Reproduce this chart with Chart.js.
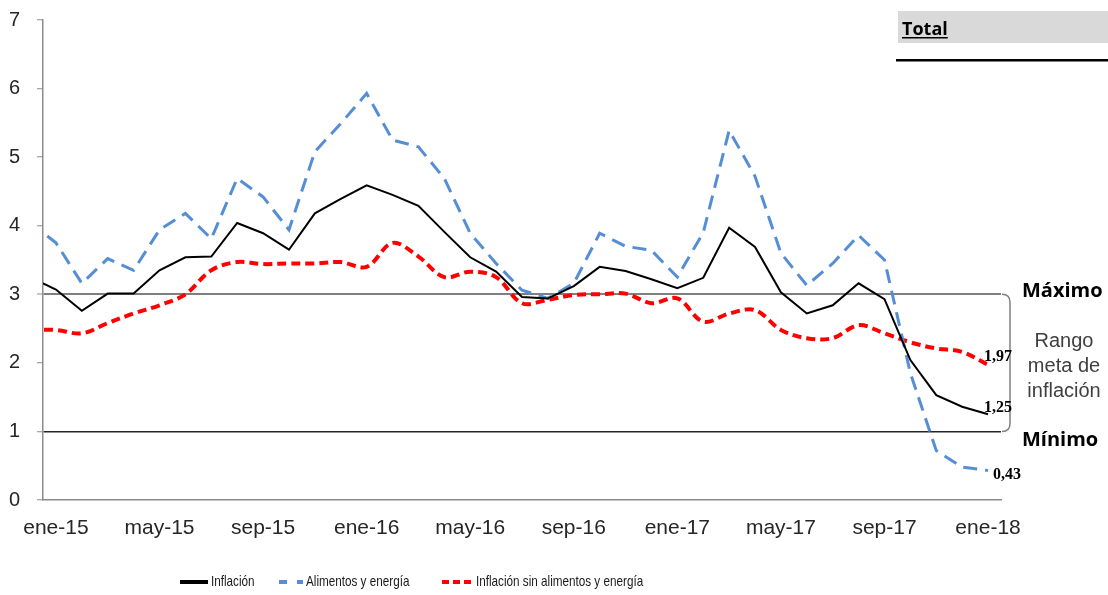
<!DOCTYPE html>
<html>
<head>
<meta charset="utf-8">
<script src="https://cdn.jsdelivr.net/npm/chart.js@4.4.1/dist/chart.umd.min.js"></script>
<style>
  html, body { margin: 0; padding: 0; background: #fff; }
</style>
</head>
<body>
<canvas id="grafico" width="1108" height="595"></canvas>
<script>
// datos (dic-14 solo sirve para que las lineas arranquen en el borde del eje)
const meses = ['dic-14',
  'ene-15','feb-15','mar-15','abr-15','may-15','jun-15','jul-15','ago-15','sep-15','oct-15','nov-15','dic-15',
  'ene-16','feb-16','mar-16','abr-16','may-16','jun-16','jul-16','ago-16','sep-16','oct-16','nov-16','dic-16',
  'ene-17','feb-17','mar-17','abr-17','may-17','jun-17','jul-17','ago-17','sep-17','oct-17','nov-17','dic-17',
  'ene-18'];

const inflacion = [3.25,
  3.07, 2.76, 3.01, 3.01, 3.35, 3.54, 3.55, 4.04, 3.89, 3.65, 4.18, 4.39,
  4.59, 4.45, 4.29, 3.91, 3.54, 3.33, 2.96, 2.94, 3.12, 3.40, 3.34, 3.22,
  3.09, 3.24, 3.97, 3.69, 3.03, 2.72, 2.84, 3.16, 2.93, 2.04, 1.53, 1.36,
  1.25];

const alimentos = [4.05,
  3.75, 3.16, 3.52, 3.35, 3.94, 4.18, 3.81, 4.69, 4.42, 3.94, 5.08, 5.49,
  5.93, 5.25, 5.15, 4.69, 3.89, 3.45, 3.06, 2.94, 3.16, 3.89, 3.70, 3.64,
  3.25, 3.90, 5.39, 4.72, 3.60, 3.13, 3.45, 3.86, 3.50, 1.85, 0.72, 0.48,
  0.43];

const sinAlimentos = [2.48,
  2.48, 2.43, 2.58, 2.72, 2.84, 3.00, 3.35, 3.47, 3.44, 3.45, 3.45, 3.47,
  3.40, 3.75, 3.55, 3.25, 3.33, 3.25, 2.87, 2.92, 2.99, 3.00, 3.01, 2.87,
  2.94, 2.60, 2.72, 2.77, 2.48, 2.36, 2.36, 2.55, 2.43, 2.30, 2.21, 2.16,
  1.97];

const nombres = ['Inflación', 'Alimentos y energía', 'Inflación sin alimentos y energía'];
const metaMax = 3;
const metaMin = 1;

const puntos = serie => meses.map((m, i) => ({ x: i - 1, y: serie[i] }));
const coma = v => v.toFixed(2).replace('.', ',');

// textos y leyenda dibujados encima
const notas = {
  id: 'notas',
  afterDraw(chart) {
    const { ctx, scales: { x, y } } = chart;
    ctx.save();

    // recuadro "Total"
    ctx.fillStyle = '#d9d9d9';
    ctx.fillRect(898, 11, 210, 32);
    ctx.fillStyle = '#000';
    ctx.font = 'bold 18px "Open Sans"';
    ctx.textAlign = 'left';
    ctx.textBaseline = 'alphabetic';
    ctx.fillText('Total', 902, 35);
    ctx.fillRect(902, 37, ctx.measureText('Total').width, 1.5);
    ctx.fillRect(896, 59, 212, 2.5);

    // maximo / minimo
    ctx.font = 'bold 20px "Open Sans"';
    ctx.fillText('Máximo', 1022, y.getPixelForValue(metaMax) + 3);
    ctx.fillText('Mínimo', 1022, y.getPixelForValue(metaMin) + 15);

    // llave del rango
    const yt = y.getPixelForValue(metaMax), yb = y.getPixelForValue(metaMin);
    ctx.strokeStyle = '#7f7f7f';
    ctx.lineWidth = 1.5;
    ctx.beginPath();
    ctx.moveTo(1002, yt);
    ctx.quadraticCurveTo(1010, yt, 1010, yt + 8);
    ctx.lineTo(1010, yb - 8);
    ctx.quadraticCurveTo(1010, yb, 1002, yb);
    ctx.stroke();

    ctx.fillStyle = '#404040';
    ctx.font = '20px "Liberation Sans"';
    ctx.textAlign = 'center';
    ctx.fillText('Rango', 1064, 347);
    ctx.fillText('meta de', 1064, 372);
    ctx.fillText('inflación', 1064, 397);

    // ultimos valores
    const n = meses.length - 1;
    const xu = x.getPixelForValue(n - 1);
    ctx.fillStyle = '#000';
    ctx.textAlign = 'left';
    ctx.font = 'bold 16px "Liberation Serif"';
    ctx.fillText(coma(sinAlimentos[n]), xu - 4, y.getPixelForValue(sinAlimentos[n]) - 4);
    ctx.fillText(coma(inflacion[n]), xu - 4, y.getPixelForValue(inflacion[n]) - 2);
    ctx.fillText(coma(alimentos[n]), xu + 5, y.getPixelForValue(alimentos[n]) + 8);

    // leyenda (letra estrecha)
    const items = chart.data.datasets.map((d, i) => ({ d, x0: [180, 279, 442][i], w: [28, 24, 31][i] }));
    ctx.font = '15px "Liberation Sans"';
    ctx.textBaseline = 'middle';
    items.forEach(({ d, x0, w }) => {
      ctx.strokeStyle = d.borderColor;
      ctx.lineWidth = 4;
      ctx.setLineDash(d.legendDash || []);
      ctx.beginPath();
      ctx.moveTo(x0, 582);
      ctx.lineTo(x0 + w, 582);
      ctx.stroke();
      ctx.setLineDash([]);
      ctx.fillStyle = '#1a1a1a';
      ctx.save();
      ctx.translate(x0 + w + 3, 582);
      ctx.scale(0.78, 1);
      ctx.fillText(d.label, 0, 0);
      ctx.restore();
    });
    ctx.restore();
  }
};

new Chart(document.getElementById('grafico'), {
  type: 'line',
  data: {
    datasets: [
      {
        label: nombres[0],
        data: puntos(inflacion),
        borderColor: '#000000',
        borderWidth: 2,
        tension: 0,
        clip: 0
      },
      {
        label: nombres[1],
        data: puntos(alimentos),
        borderColor: '#558ed5',
        borderWidth: 3,
        borderDash: [14, 8],
        legendDash: [8, 10],
        tension: 0,
        clip: 0
      },
      {
        label: nombres[2],
        data: puntos(sinAlimentos),
        borderColor: '#ff0000',
        borderWidth: 4,
        borderDash: [9, 5],
        legendDash: [7, 4],
        tension: 0.35,
        clip: 0
      }
    ]
  },
  options: {
    responsive: false,
    animation: false,
    devicePixelRatio: 1,
    elements: { point: { radius: 0, hoverRadius: 0 } },
    layout: { padding: { top: 20, right: 107, bottom: 0, left: 0 } },
    plugins: { legend: { display: false }, tooltip: { enabled: false } },
    scales: {
      x: {
        type: 'linear',
        min: -0.5,
        max: meses.length - 1.5,
        afterBuildTicks: s => {
          s.ticks = meses.map((m, i) => i - 1).filter(v => v >= 0 && v % 4 === 0).map(v => ({ value: v }));
        },
        afterFit: s => { s.height = 95; },
        grid: { display: false, drawTicks: false },
        border: { color: '#8c8c8c', width: 1.5 },
        ticks: {
          callback: v => meses[v + 1],
          font: { family: 'Liberation Sans', size: 21 },
          color: '#262626',
          padding: 16,
          maxRotation: 0,
          autoSkip: false
        }
      },
      y: {
        min: 0,
        max: 7,
        afterFit: s => { s.width = 43; s.paddingTop = 12; s.paddingBottom = 0; },
        grid: {
          color: c => c.tick && c.tick.value === metaMax ? '#7f7f7f'
            : (c.tick && c.tick.value === metaMin ? '#262626' : 'rgba(0,0,0,0)'),
          lineWidth: c => c.tick && c.tick.value === metaMax ? 2 : 1.5,
          tickColor: '#8c8c8c',
          tickWidth: 1,
          tickLength: 6
        },
        border: { color: '#8c8c8c', width: 1.5 },
        ticks: {
          stepSize: 1,
          font: { family: 'Liberation Sans', size: 20 },
          color: '#262626',
          padding: 17
        }
      }
    }
  },
  plugins: [notas]
});
</script>
</body>
</html>
